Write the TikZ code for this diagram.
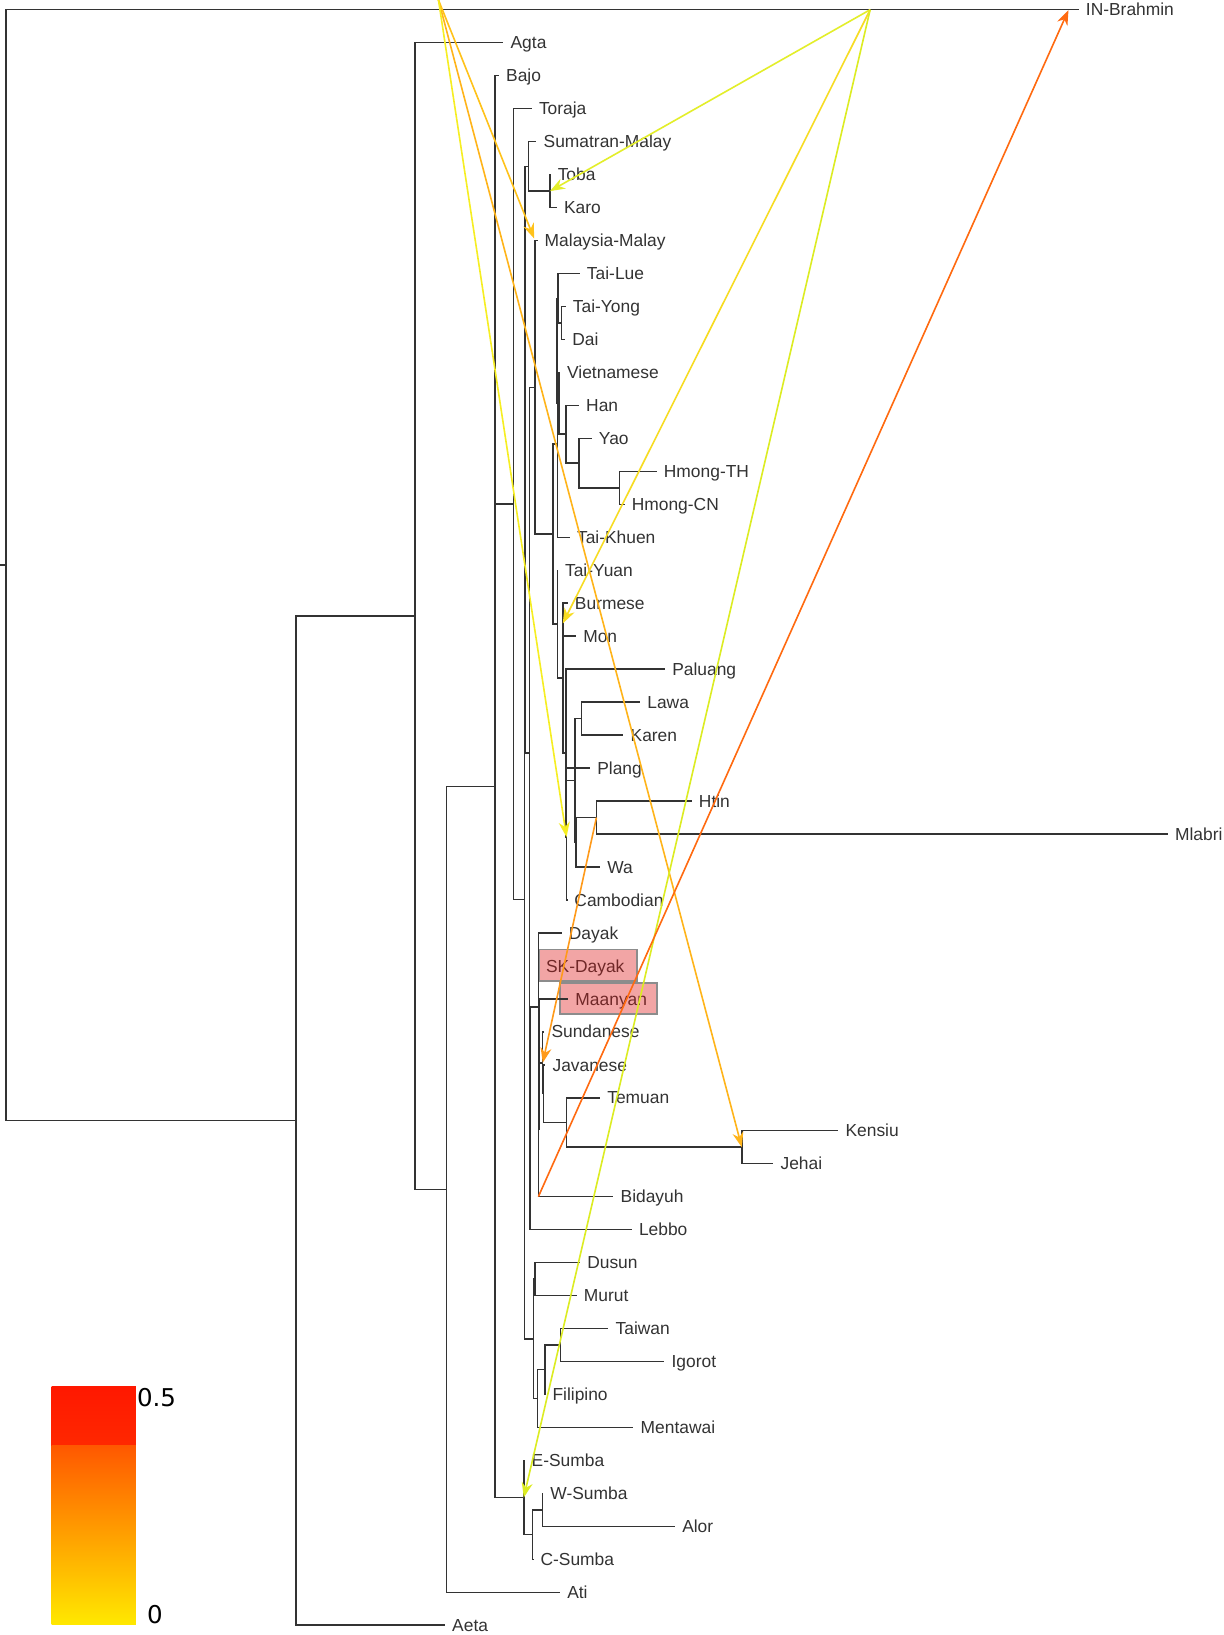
\documentclass[tikz,border=0pt]{standalone}
\usepackage{fontspec}
\setmainfont{Liberation Sans}
\newfontfamily\legendfont{DejaVu Sans}
\usetikzlibrary{arrows.meta}
\definecolor{treec}{HTML}{333333}
\definecolor{labc}{HTML}{333333}
\definecolor{hlfill}{HTML}{F2A5A5}
\definecolor{hldraw}{HTML}{8C8C8C}
\definecolor{hltext}{HTML}{702828}
\definecolor{mA}{HTML}{FFC21A}
\definecolor{mB}{HTML}{E3EE2A}
\definecolor{mC}{HTML}{F7DC22}
\definecolor{mD}{HTML}{F6EE22}
\definecolor{mE}{HTML}{FF9A1A}
\definecolor{mF}{HTML}{FFB41A}
\definecolor{mG}{HTML}{FF6A10}
\definecolor{mH}{HTML}{DCEC22}
\newcommand\mytip[4]{\coordinate (#1) at (#2,#3); \node[lab] (#1-l) at (#1) {#4};}
\begin{document}
\begin{tikzpicture}[x=1.0426pt,y=-1.0426pt,
  br/.style={draw=treec, line width=1.5pt},
  lab/.style={anchor=west, inner xsep=7pt, inner ysep=0pt, text height=12.4pt, text depth=0pt,
              font=\fontsize{17.4}{20}\selectfont, text=labc},
  mig/.style={line width=1.6pt, -{Stealth[length=15pt,width=11pt]}},
  hlbox/.style={fill=hlfill, draw=hldraw, line width=1.8pt}]
\useasboundingbox (0,0) rectangle (1173,1568);
\fill[white] (0,0) rectangle (1173,1568);

% highlight boxes
\draw[hlbox] (517.3,910.5) rectangle (610.7,940.6);
\draw[hlbox] (537.1,942.5) rectangle (629.9,972.6);

% internal nodes
\coordinate (stub) at (0,542);
\coordinate (R) at (5.8,542);
\coordinate (N1) at (284,1074.7);
\coordinate (N2) at (398,590.85);
\coordinate (N3) at (428.4,1140.7);
\coordinate (N4) at (474.8,754.4);
\coordinate (TR) at (492.4,483.3);
\coordinate (X) at (502.9,862.4);
\coordinate (SM) at (503.6,440.8);
\coordinate (SN) at (506.7,159.6);
\coordinate (TK2) at (527.5,183.3);
\coordinate (ML) at (507.7,721.95);
\coordinate (MM) at (513,371.5);
\coordinate (T0) at (530.5,512.3);
\coordinate (TKH) at (534.8,425.9);
\coordinate (TLV) at (534.3,336.4);
\coordinate (TL) at (535.2,286.05);
\coordinate (TD) at (538.7,309.8);
\coordinate (VH) at (536,386.8);
\coordinate (HYH) at (542.9,416.45);
\coordinate (YH) at (555.3,444.1);
\coordinate (HH) at (594,467.8);
\coordinate (TY) at (534.5,598.65);
\coordinate (BMC) at (539.7,650.4);
\coordinate (C2) at (542.9,722.25);
\coordinate (C1) at (543.3,802.8);
\coordinate (Q2) at (543.1,742.5);
\coordinate (Q1) at (551.5,748.45);
\coordinate (LK) at (557.9,689.2);
\coordinate (HMW) at (552.2,807.7);
\coordinate (HM) at (572,784);
\coordinate (L) at (508.4,1072.4);
\coordinate (DT) at (516.3,965.6);
\coordinate (DS) at (516.3,910.5);
\coordinate (MJB) at (516.8,1020.65);
\coordinate (JB) at (516.3,1083.4);
\coordinate (J2) at (520.5,1019.2);
\coordinate (J1) at (521.3,1048.85);
\coordinate (TJ) at (543.5,1076.5);
\coordinate (KJ) at (711.4,1100.2);
\coordinate (F3) at (511.5,1284);
\coordinate (DM) at (513.1,1226.7);
\coordinate (F2) at (515.3,1341.3);
\coordinate (F1) at (522.7,1313.6);
\coordinate (TI) at (537.7,1289.9);
\coordinate (SU) at (502.3,1436.15);
\coordinate (SW) at (510.9,1471.7);
\coordinate (WA) at (520.2,1448);

% tips and labels
\mytip{inb}{1034.5}{9.3}{IN-Brahmin}
\mytip{agta}{482.8}{41}{Agta}
\mytip{bajo}{478.5}{72.6}{Bajo}
\mytip{tora}{510}{104.2}{Toraja}
\mytip{suma}{514.5}{135.9}{Sumatran-Malay}
\mytip{toba}{528}{167.5}{Toba}
\mytip{karo}{534}{199.1}{Karo}
\mytip{mama}{515.5}{230.7}{Malaysia-Malay}
\mytip{tlue}{556}{262.3}{Tai-Lue}
\mytip{tyon}{542.5}{294}{Tai-Yong}
\mytip{dai}{542}{325.6}{Dai}
\mytip{viet}{537}{357.2}{Vietnamese}
\mytip{han}{555.3}{388.8}{Han}
\mytip{yao}{567.5}{420.4}{Yao}
\mytip{hmth}{629.8}{452}{Hmong-TH}
\mytip{hmcn}{599}{483.6}{Hmong-CN}
\mytip{tkhu}{546.5}{515.3}{Tai-Khuen}
\mytip{tyua}{535}{546.9}{Tai-Yuan}
\mytip{burm}{544.5}{578.5}{Burmese}
\mytip{mon}{552.5}{610.1}{Mon}
\mytip{palu}{637.8}{641.7}{Paluang}
\mytip{lawa}{613.9}{673.4}{Lawa}
\mytip{kare}{597.9}{705}{Karen}
\mytip{plan}{565.9}{736.6}{Plang}
\mytip{htin}{663.4}{768.2}{Htin}
\mytip{mlab}{1120}{799.8}{Mlabri}
\mytip{wa}{575.5}{831.4}{Wa}
\mytip{camb}{544}{863.1}{Cambodian}
\mytip{daya}{538.7}{894.7}{Dayak}
\coordinate (skda) at (516.8,926.3);
\node[lab, text=hltext] (skda-l) at (skda) {SK-Dayak};
\coordinate (maan) at (545,957.9);
\node[lab, text=hltext] (maan-l) at (maan) {Maanyan};
\mytip{sund}{522}{989.5}{Sundanese}
\mytip{java}{523}{1021.2}{Javanese}
\mytip{temu}{575.5}{1052.8}{Temuan}
\mytip{kens}{804}{1084.4}{Kensiu}
\mytip{jeha}{741.7}{1116}{Jehai}
\mytip{bida}{588.3}{1147.6}{Bidayuh}
\mytip{lebb}{605.9}{1179.2}{Lebbo}
\mytip{dusu}{556.3}{1210.9}{Dusun}
\mytip{muru}{553.1}{1242.5}{Murut}
\mytip{taiw}{583.5}{1274.1}{Taiwan}
\mytip{igor}{637.2}{1305.7}{Igorot}
\mytip{fili}{523}{1337.3}{Filipino}
\mytip{ment}{607.5}{1369}{Mentawai}
\mytip{esum}{503}{1400.6}{E-Sumba}
\mytip{wsum}{521}{1432.2}{W-Sumba}
\mytip{alor}{647.4}{1463.8}{Alor}
\mytip{csum}{511.5}{1495.4}{C-Sumba}
\mytip{ati}{537.1}{1527}{Ati}
\mytip{aeta}{426.8}{1558.6}{Aeta}

% tree edges
\draw[br] (stub) -- (R);
\foreach \p/\c in {R/inb, R/N1, N1/N2, N1/aeta, N2/agta, N2/N3, N3/N4, N3/ati,
  N4/bajo, N4/TR, N4/SU, TR/tora, TR/X, X/SM, X/F3, SM/SN, SM/ML,
  SN/suma, SN/TK2, TK2/toba, TK2/karo, ML/MM, ML/L, MM/mama, MM/T0,
  T0/TKH, T0/TY, TKH/TLV, TKH/tkhu, TLV/TL, TLV/VH, TL/tlue, TL/TD,
  TD/tyon, TD/dai, VH/viet, VH/HYH, HYH/han, HYH/YH, YH/yao, YH/HH,
  HH/hmth, HH/hmcn, TY/tyua, TY/BMC, BMC/burm, BMC/mon, BMC/C2,
  C2/palu, C2/C1, C1/Q2, C1/camb, Q2/plan, Q2/Q1, Q1/LK, Q1/HMW,
  LK/lawa, LK/kare, HMW/HM, HMW/wa, HM/htin, HM/mlab,
  L/DT, L/lebb, DT/DS, DT/MJB, DS/daya, DS/skda, MJB/maan, MJB/JB,
  JB/J2, JB/bida, J2/sund, J2/J1, J1/java, J1/TJ, TJ/temu, TJ/KJ,
  KJ/kens, KJ/jeha, F3/DM, F3/F2, DM/dusu, DM/muru, F2/F1, F2/ment,
  F1/TI, F1/fili, TI/taiw, TI/igor, SU/esum, SU/SW, SW/WA, SW/csum,
  WA/wsum, WA/alor}
  \draw[br] (\p) |- (\c);

% migration edges
\coordinate (srcA) at (420.5,0);
\coordinate (srcB) at (834.5,9.3);
\coordinate (aEnd) at (512.3,228.8);
\coordinate (cEnd) at (539.7,597.9);
\coordinate (gStart) at (516.3,1147.6);
\coordinate (gEnd) at (1024.7,9.6);
\draw[mig, mF] (srcA) -- (KJ);
\draw[mig, mA] (srcA) -- (aEnd);
\draw[mig, mD] (srcA) -- (C1);
\draw[mig, mB] (srcB) -- (TK2);
\draw[mig, mC] (srcB) -- (cEnd);
\draw[mig, mH] (srcB) -- (SU);
\draw[mig, mE] (HM) -- (J2);
\draw[mig, mG] (gStart) -- (gEnd);

% legend
\shade[top color={rgb,255:red,255;green,24;blue,0}, bottom color={rgb,255:red,255;green,40;blue,0}]
  (49.6,1329.4) rectangle (130.4,1386.8);
\shade[top color={rgb,255:red,255;green,88;blue,0}, middle color={rgb,255:red,255;green,150;blue,0},
  bottom color={rgb,255:red,255;green,232;blue,0}]
  (49.6,1386.5) rectangle (130.4,1557.6);
\node[anchor=base west, inner sep=0pt, font=\legendfont\fontsize{24.5}{28}\selectfont, text=black]
  (lg1) at (131.3,1348.6) {0.5};
\node[anchor=base west, inner sep=0pt, font=\legendfont\fontsize{24.5}{28}\selectfont, text=black]
  (lg0) at (140.8,1557) {0};
\end{tikzpicture}
\end{document}
